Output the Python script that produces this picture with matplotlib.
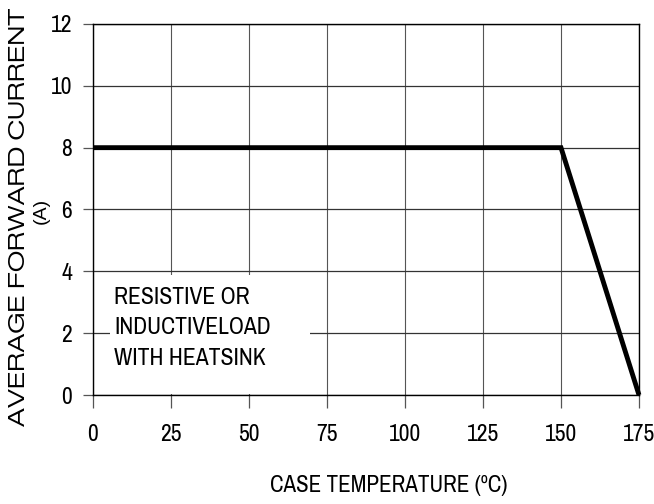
import matplotlib
matplotlib.use("Agg")
import matplotlib.pyplot as plt
from matplotlib.patches import Rectangle

temps = [0, 150, 175]
current = [8, 8, 0]
xticks = [0, 25, 50, 75, 100, 125, 150, 175]
yticks = [0, 2, 4, 6, 8, 10, 12]
note = 'RESISTIVE OR\nINDUCTIVELOAD\nWITH HEATSINK'
xlabel = 'CASE TEMPERATURE (ºC)'
ylabel1 = 'AVERAGE FORWARD CURRENT'
ylabel2 = '(A)'

narrow = ['Pragati Narrow', 'Liberation Sans']
wide = ['Zalando Sans Expanded', 'Liberation Sans']
W, H = 654, 504

fig = plt.figure(figsize=(6.54, 5.04), dpi=100)
ax = fig.add_axes([93/W, 1-395/H, (639-93)/W, (395-24)/H])
ax.set_xlim(0, 175)
ax.set_ylim(0, 12)
ax.set_xticks(xticks)
ax.set_yticks(yticks)
ax.xaxis.grid(True, color='#555555', linewidth=0.8)
ax.yaxis.grid(True, color='#333333', linewidth=0.9)
ax.set_axisbelow(True)
for s in ax.spines.values():
    s.set_color('black'); s.set_linewidth(1.0)
ax.tick_params(axis='y', direction='out', length=7, width=0.9, color='#555555', pad=8)
ax.tick_params(axis='x', direction='out', length=9, width=0.9, color='#555555', pad=12)
for lab in ax.get_xticklabels() + ax.get_yticklabels():
    lab.set_fontfamily(narrow); lab.set_fontsize(18.5)

ax.add_patch(Rectangle(((110-93)/546, 0.003), 200/546, (395-276)/371, transform=ax.transAxes,
                       facecolor='white', edgecolor='none', zorder=1.5))
ax.plot(temps, current, color='black', linewidth=3.5, solid_capstyle='butt',
        solid_joinstyle='miter', clip_on=False, zorder=3)
ax.text((114-93)/546, (395-328)/371, note, transform=ax.transAxes, fontfamily=narrow, fontsize=18.5,
        va='center', ha='left', linespacing=1.55, zorder=4)

fig.text(389/W, 1-486/H, xlabel, fontfamily=narrow, fontsize=18, ha='center', va='center')
fig.text(19/W, 1-217/H, ylabel1, fontfamily=wide, fontsize=16, rotation=90,
         ha='center', va='center')
fig.text(41/W, 1-211/H, ylabel2, fontfamily='Liberation Sans', fontsize=14, rotation=90,
         ha='center', va='center')
fig.savefig('out.png', dpi=100)
